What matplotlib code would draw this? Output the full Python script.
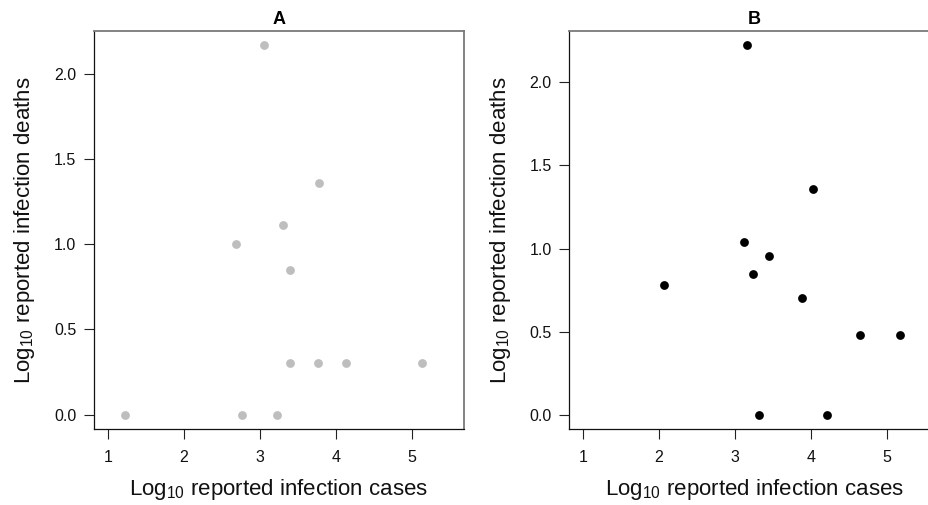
import matplotlib
matplotlib.use("Agg")
import matplotlib.pyplot as plt

plt.rcParams['font.family'] = ['Liberation Sans', 'DejaVu Sans']
plt.rcParams['mathtext.fontset'] = 'custom'
plt.rcParams['mathtext.rm'] = 'Liberation Sans'
plt.rcParams['mathtext.default'] = 'regular'

# Panel A: log10 cases vs log10 deaths
cases_a = [1.23, 2.77, 3.22, 2.69, 3.05, 3.78, 3.30, 3.40, 3.40, 3.76, 4.13, 5.13]
deaths_a = [0.0, 0.0, 0.0, 1.0, 2.167, 1.362, 1.112, 0.846, 0.301, 0.301, 0.301, 0.301]

# Panel B
cases_b = [2.07, 3.15, 3.11, 3.24, 3.44, 4.02, 3.88, 4.64, 5.17, 3.32, 4.21]
deaths_b = [0.778, 2.223, 1.042, 0.847, 0.956, 1.361, 0.699, 0.477, 0.477, 0.0, 0.0]

x_ticks = [1, 2, 3, 4, 5]
y_ticks = [0.0, 0.5, 1.0, 1.5, 2.0]
x_range = (1.0, 5.5)

W, H = 929, 505
fig = plt.figure(figsize=(W / 100, H / 100), dpi=100)

def r_range(lo, hi):
    pad = 0.04 * (hi - lo)
    return lo - pad, hi + pad

def panel(left_px, title, xs, ys, color):
    top_px, bottom_px = 30.7, 429.3
    width_px = 369.7
    ax = fig.add_axes([left_px / W, 1 - bottom_px / H,
                       width_px / W, (bottom_px - top_px) / H])
    ax.scatter(xs, ys, s=40, color=color, linewidths=0, zorder=3)
    ax.set_xlim(*r_range(*x_range))
    ax.set_ylim(*r_range(0, max(ys)))
    ax.set_xticks(x_ticks)
    ax.set_xticklabels([str(t) for t in x_ticks])
    ax.set_yticks(y_ticks)
    ax.set_yticklabels([f"{t:.1f}" for t in y_ticks])
    ax.tick_params(direction='out', length=7.2, width=0.8, color='#222222',
                   labelsize=11.5, labelcolor='#111111')
    ax.tick_params(axis='x', pad=8)
    ax.tick_params(axis='y', pad=5.5)
    for side in ('left', 'bottom'):
        ax.spines[side].set_color('#111111')
        ax.spines[side].set_linewidth(0.9)
    for side in ('top', 'right'):
        ax.spines[side].set_color('#7a7a7a')
        ax.spines[side].set_linewidth(1.3)
    ax.set_title(title, fontsize=13, fontweight='bold', pad=4.5)
    ax.set_xlabel(r'Log$_{10}$ reported infection cases', fontsize=16,
                  labelpad=8, color='#111111')
    ax.set_ylabel(r'Log$_{10}$ reported infection deaths', fontsize=16,
                  labelpad=12, color='#111111')
    return ax

panel(94.0, 'A', cases_a, deaths_a, '#bebebe')
panel(569.3, 'B', cases_b, deaths_b, '#000000')

fig.savefig('out.png', dpi=100)
